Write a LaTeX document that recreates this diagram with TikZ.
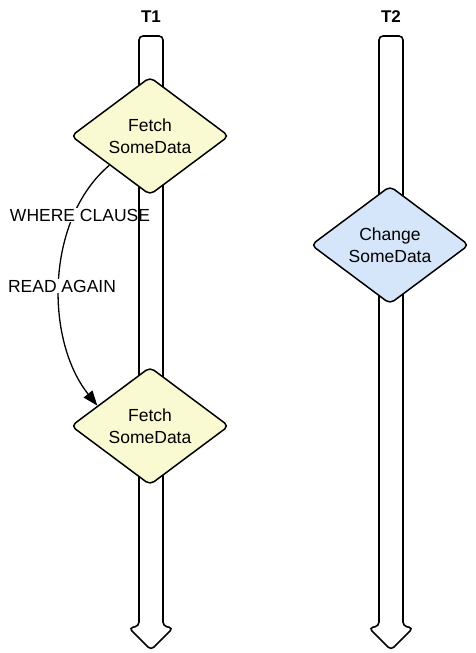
\documentclass[tikz,border=0pt]{standalone}
\usepackage{fontspec}
\setmainfont{Liberation Sans}
\usepackage{xcolor}
\usetikzlibrary{arrows.meta,calc,shapes.geometric,backgrounds}

\definecolor{fetchfill}{RGB}{250,250,210}
\definecolor{changefill}{RGB}{214,230,250}

\begin{document}
\begin{tikzpicture}[x=1pt,y=-1pt,line join=round,
    lane/.style={draw,line width=1.6pt,rounded corners=4pt},
    stepbox/.style={diamond,draw,line width=1.5pt,rounded corners=5pt,
      minimum width=158pt,minimum height=118pt,inner sep=0pt,align=center,
      font=\fontsize{17.5}{22}\selectfont},
    fetchbox/.style={stepbox,fill=fetchfill},
    changebox/.style={stepbox,fill=changefill},
    lanetitle/.style={font=\fontsize{17}{20}\selectfont\bfseries},
    lbl/.style={fill=white,inner sep=1pt,font=\fontsize{17.5}{20}\selectfont},
    flow/.style={line width=1.3pt,-{Triangle[length=15pt,width=11pt]}}]
  \useasboundingbox (0,0) rectangle (475,653);
  % transactions
  \node[lanetitle] (t1) at (151,17) {T1};
  \node[lanetitle] (t2) at (391,17) {T2};
  % steps
  \node[fetchbox] (fetchA) at (150,136) {Fetch\\SomeData};
  \node[fetchbox] (fetchB) at (150,426) {Fetch\\SomeData};
  \node[changebox] (change) at (390,245) {Change\\SomeData};
  \begin{scope}[on background layer]
    \coordinate (s) at ($(fetchA.west)!0.49!(fetchA.south)$);
    \coordinate (e) at ($(fetchB.west)!0.34!(fetchB.north)$);
    \draw[flow] (s) .. controls (45,220) and (45,340) .. (e);
    \node[lbl] (where) at (80,215) {WHERE CLAUSE};
    \node[lbl] (again) at (62,286) {READ AGAIN};
    % time lines
    \draw[lane] (139,626) -- (139,36) -- (163,36) -- (163,626) -- (173,628)
      -- (151,650) -- (129,628) -- cycle;
    \draw[lane] (379,626) -- (379,36) -- (403,36) -- (403,626) -- (413,628)
      -- (391,650) -- (369,628) -- cycle;
  \end{scope}
\end{tikzpicture}
\end{document}
